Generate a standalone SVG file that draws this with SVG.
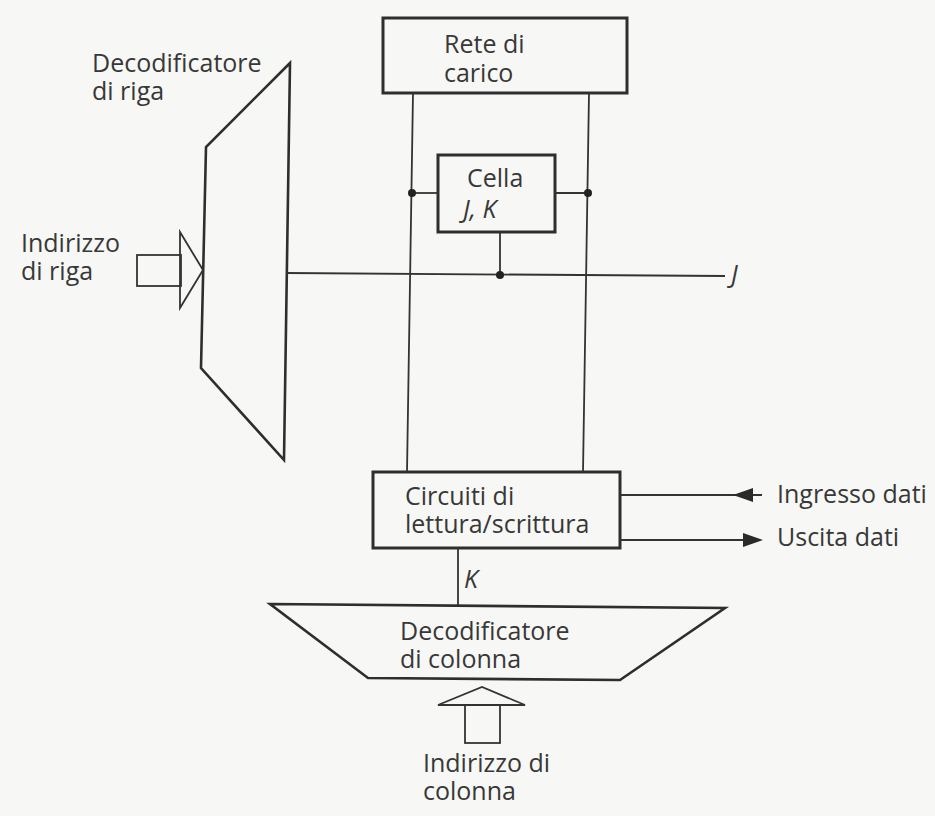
<svg xmlns="http://www.w3.org/2000/svg" width="935" height="816" viewBox="0 0 935 816">
<style>
text{font-family:"Open Sans","Liberation Sans",sans-serif;font-size:25px;fill:#383838}
.it{font-style:italic}
.box{fill:none;stroke:#2e2e2e;stroke-width:3}
.shape{fill:none;stroke:#2e2e2e;stroke-width:2.6;stroke-linejoin:miter}
.ln{fill:none;stroke:#333;stroke-width:1.8}
.dot{fill:#222}
</style>
<rect width="935" height="816" fill="#f7f7f5"/>

<g id="label-row-decoder">
<text x="92" y="72">Decodificatore<tspan x="92" y="100">di riga</tspan></text>
</g>

<g id="row-decoder">
<polygon class="shape" points="290,63 206,147 201,368 284,460"/>
</g>

<g id="row-address">
<rect class="ln" x="137" y="255" width="44" height="31"/>
<polygon class="ln" points="180,232 203,270 180,308"/>
<text x="21" y="252">Indirizzo<tspan x="21" y="280">di riga</tspan></text>
</g>

<g id="load-network">
<rect class="box" x="383" y="18" width="244" height="75"/>
<text x="444" y="53">Rete di<tspan x="444" y="82">carico</tspan></text>
</g>

<g id="cell">
<rect class="box" x="438" y="155" width="117" height="77"/>
<text x="467" y="187">Cella<tspan x="463" y="218" class="it">J, K</tspan></text>
</g>

<g id="rw-circuits">
<rect class="box" x="373" y="472" width="247" height="76"/>
<text x="405" y="505">Circuiti di<tspan x="405" y="533">lettura/scrittura</tspan></text>
</g>

<g id="col-decoder">
<polygon class="shape" points="270,604 725,608 620,680 368,678"/>
<text x="400" y="640">Decodificatore<tspan x="400" y="668">di colonna</tspan></text>
</g>

<g id="col-address">
<polygon class="ln" points="438,705 482,687 525,705"/>
<rect class="ln" x="465" y="705" width="35" height="38"/>
<text x="423" y="772">Indirizzo di<tspan x="423" y="800">colonna</tspan></text>
</g>

<g id="connectors">
<line class="ln" x1="413" y1="93" x2="407" y2="472"/>
<line class="ln" x1="589" y1="93" x2="583" y2="472"/>
<line class="ln" x1="412" y1="193" x2="438" y2="193"/>
<line class="ln" x1="555" y1="193" x2="588" y2="193"/>
<line class="ln" x1="500" y1="232" x2="500" y2="275"/>
<line class="ln" x1="287" y1="273" x2="725" y2="276"/>
<circle class="dot" cx="412" cy="193" r="4"/>
<circle class="dot" cx="588" cy="193" r="4"/>
<circle class="dot" cx="500" cy="275" r="4"/>
<text x="731" y="283" class="it">J</text>
<line class="ln" x1="458" y1="548" x2="458" y2="605"/>
<text x="464" y="588" class="it">K</text>
<line class="ln" x1="762" y1="495" x2="620" y2="495"/>
<path d="M733,495 L753,488 L753,502 Z" fill="#2a2a2a"/>
<line class="ln" x1="620" y1="540" x2="745" y2="540"/>
<path d="M763,540 L743,533 L743,547 Z" fill="#2a2a2a"/>
<text x="777" y="503">Ingresso dati</text>
<text x="777" y="546">Uscita dati</text>
</g>
</svg>
